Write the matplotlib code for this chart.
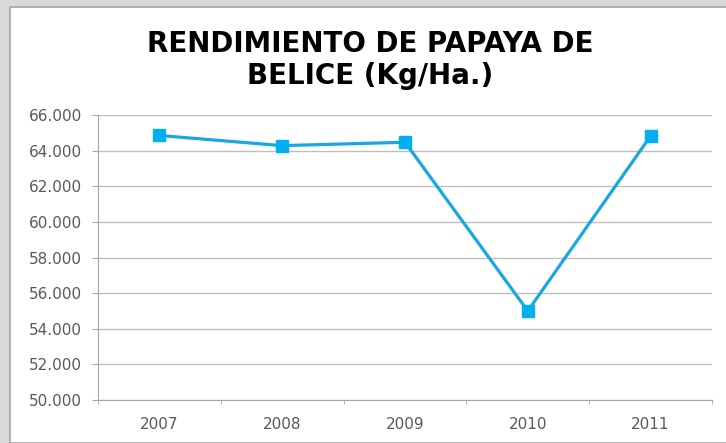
import matplotlib.pyplot as plt
from matplotlib.patches import Rectangle
from matplotlib.ticker import FuncFormatter, FixedLocator

years = ['2007', '2008', '2009', '2010', '2011']
rendimiento = [64850, 64280, 64470, 55000, 64820]
y_ticks = list(range(50000, 66001, 2000))

fig = plt.figure(figsize=(7.26, 4.43), dpi=100)
fig.patch.set_facecolor('#d9d9d9')
fig.patches.append(Rectangle((10 / 726, 0), 1, 1 - 7 / 443, transform=fig.transFigure,
                             facecolor='white', edgecolor='#a6a6a6', linewidth=1.2, zorder=-5))

ax = fig.add_axes([98 / 726, 1 - 400 / 443, (712 - 98) / 726, (400 - 115) / 443])
ax.set_facecolor('white')

x = list(range(len(years)))
ax.plot(x, rendimiento, color='#1aa6e0', linewidth=2.3, marker='s', markersize=8,
        markerfacecolor='#00b0f0', markeredgecolor='#00b0f0', zorder=3)

ax.set_xlim(-0.5, len(years) - 0.5)
ax.set_ylim(50000, 66000)
ax.set_yticks(y_ticks)
ax.yaxis.set_major_formatter(FuncFormatter(lambda v, p: f'{int(v):,}'.replace(',', '.')))
ax.set_xticks(x)
ax.set_xticklabels(years)
ax.xaxis.set_minor_locator(FixedLocator([i + 0.5 for i in range(-1, len(years))]))

ax.grid(axis='y', color='#bfbfbf', linewidth=1)
ax.set_axisbelow(True)
for s in ['top', 'right']:
    ax.spines[s].set_visible(False)
ax.spines['left'].set_color('#a6a6a6')
ax.spines['bottom'].set_color('#a6a6a6')

ax.tick_params(axis='y', length=4.5, color='#a6a6a6', labelsize=11, labelcolor='#595959', pad=7)
ax.tick_params(axis='x', which='major', length=0, labelsize=11, labelcolor='#595959', pad=12)
ax.tick_params(axis='x', which='minor', length=3, color='#a6a6a6')

fig.text(0.51, 1 - 60 / 443, 'RENDIMIENTO DE PAPAYA DE\nBELICE (Kg/Ha.)', ha='center', va='center',
         fontsize=20, fontweight='bold', color='black', linespacing=1.22)

fig.savefig('out.png', dpi=100, facecolor=fig.get_facecolor())
